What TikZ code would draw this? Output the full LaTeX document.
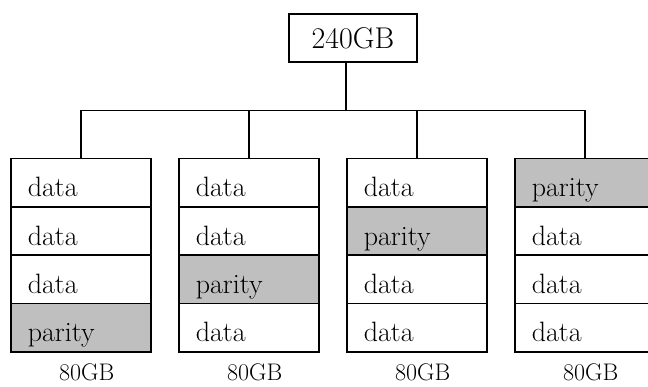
\documentclass[tikz,border=0pt]{standalone}
\usepackage{tikz}

\tikzset{
  cell/.style={draw, line width=1.5pt, anchor=north west, inner ysep=0pt,
    inner xsep=17pt, text width=106pt, text height=38.25pt, text depth=10pt,
    align=left, font=\fontsize{28}{34}\selectfont},
  data/.style={cell, fill=white},
  parity/.style={cell, fill=gray!50},
  size/.style={anchor=base, font=\fontsize{24}{28}\selectfont}
}

\begin{document}
\begin{tikzpicture}[x=1pt, y=-1pt, line width=1.5pt]
  \useasboundingbox (0,0) rectangle (648,387);

  % array capacity
  \node[draw, minimum width=128pt, minimum height=48pt, inner sep=0pt,
    font=\fontsize{30}{36}\selectfont] (total) at (353,38) {240GB};

  % disks, parity block moving up one row per disk
  \foreach \d/\p in {1/4, 2/3, 3/2, 4/1} {
    \foreach \r in {1,...,4} {
      \pgfmathsetmacro{\xx}{10+168*(\d-1)}
      \pgfmathsetmacro{\yy}{158+48.25*(\r-1)}
      \ifnum\r=\p
        \node[parity] (d\d r\r) at (\xx,\yy) {parity};
      \else
        \node[data] (d\d r\r) at (\xx,\yy) {data};
      \fi
    }
    \node[size] (cap\d) at ([xshift=6pt]d\d r4.south |- 0,381) {80GB};
  }

  % tree
  \coordinate (split) at (346,110.7);
  \draw (split |- total.south) -- (split);
  \draw (d1r1.north) |- (split) -| (d4r1.north);
  \draw (d2r1.north) -- (d2r1.north |- split);
  \draw (d3r1.north) -- (d3r1.north |- split);
\end{tikzpicture}
\end{document}
